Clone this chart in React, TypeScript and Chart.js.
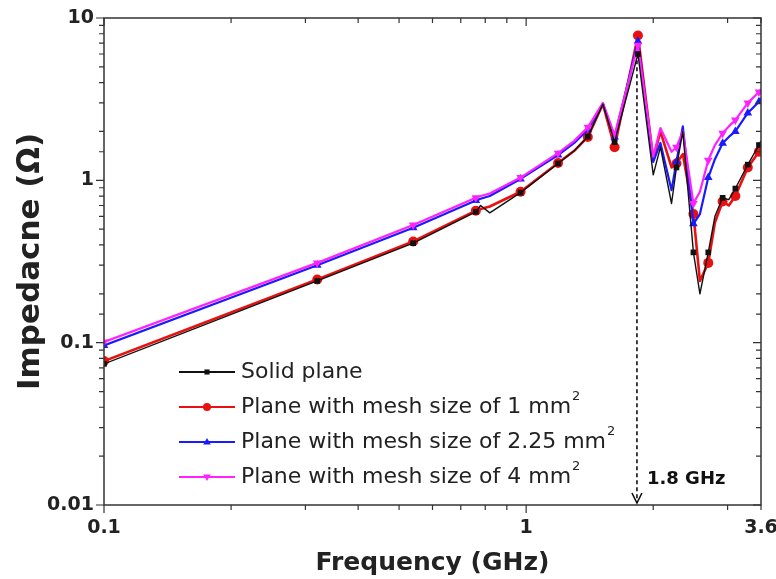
import React, { useEffect, useRef } from "react";
import { Chart, registerables } from "chart.js";

Chart.register(...registerables);

// ---------- data ----------
const FREQ = [0.1, 0.32, 0.54, 0.76, 0.78, 0.82, 0.97, 1.19, 1.3, 1.4, 1.52, 1.62, 1.84, 2.0, 2.08, 2.21, 2.27, 2.35, 2.49, 2.58, 2.7, 2.8, 2.92, 3.02, 3.13, 3.35, 3.56, 3.6];

const SOLID = [0.074, 0.24, 0.41, 0.64, 0.7, 0.63, 0.84, 1.27, 1.52, 1.86, 2.95, 1.72, 6.0, 1.08, 1.6, 0.72, 1.2, 2.0, 0.36, 0.2, 0.36, 0.6, 0.78, 0.76, 0.89, 1.25, 1.65, 1.75];
const MESH_1 = [0.077, 0.245, 0.42, 0.65, 0.665, 0.69, 0.85, 1.28, 1.52, 1.85, 2.95, 1.6, 7.8, 1.35, 2.0, 1.2, 1.27, 1.45, 0.62, 0.24, 0.31, 0.55, 0.74, 0.7, 0.8, 1.2, 1.5, 1.55];
const MESH_225 = [0.096, 0.3, 0.51, 0.75, 0.77, 0.8, 1.02, 1.43, 1.7, 2.05, 2.95, 1.85, 7.2, 1.3, 1.7, 0.87, 1.3, 2.15, 0.54, 0.62, 1.04, 1.35, 1.69, 1.85, 2.0, 2.6, 3.05, 3.2];
const MESH_4 = [0.101, 0.31, 0.53, 0.78, 0.8, 0.83, 1.04, 1.47, 1.75, 2.12, 3.0, 1.9, 6.8, 1.4, 2.1, 1.5, 1.6, 2.0, 0.72, 0.85, 1.33, 1.65, 1.95, 2.15, 2.35, 3.0, 3.5, 3.65];

const MARKER_FREQ = [0.1, 0.32, 0.54, 0.76, 0.97, 1.19, 1.4, 1.62, 1.84, 2.27, 2.49, 2.7, 2.92, 3.13, 3.35, 3.56];

const SERIES_LABELS = [
  "Solid plane",
  "Plane with mesh size of 1 mm",
  "Plane with mesh size of 2.25 mm",
  "Plane with mesh size of 4 mm",
];
const SERIES_SUP = ["", "2", "2", "2"];

const X_TICKS = [0.1, 0.2, 0.3, 0.4, 0.5, 0.6, 0.7, 0.8, 0.9, 1, 2, 3, 3.6];
const X_LABELS = [0.1, 1, 3.6];
const Y_LABELS = [0.01, 0.1, 1, 10];

const ANNOT_FREQ = 1.83;
const ANNOT_TOP = 5.5;
const ANNOT_LABEL = "1.8 GHz";

// ---------- styles ----------
const FONT = "'DejaVu Sans', sans-serif";
const COLORS = ["#111111", "#e81010", "#1a1aff", "#ff22ff"];
const WIDTHS = [1.4, 2.6, 2.2, 2.2];
const STYLES = ["rect", "circle", "triangle", "triangle"];
const ROTS = [0, 0, 0, 180];
const RADII = [4, 5, 5, 5];
const ORDERS = [0, 3, 2, 1];

const inList = (v: number, list: number[]) =>
  list.some((l) => Math.abs(l - v) / l < 1e-6);

function drawMarker(ctx: CanvasRenderingContext2D, style: string, rot: number, x: number, y: number, r: number) {
  ctx.beginPath();
  if (style === "rect") {
    ctx.rect(x - r * 0.85, y - r * 0.85, r * 1.7, r * 1.7);
  } else if (style === "circle") {
    ctx.arc(x, y, r, 0, Math.PI * 2);
  } else {
    const s = rot === 180 ? -1 : 1;
    ctx.moveTo(x, y - s * r);
    ctx.lineTo(x + r * 0.95, y + s * r * 0.65);
    ctx.lineTo(x - r * 0.95, y + s * r * 0.65);
    ctx.closePath();
  }
  ctx.fill();
}

const framePlugin = {
  id: "frameTicks",
  afterDatasetsDraw(chart: any) {
    const { ctx, chartArea: a, scales } = chart;
    const xs = scales.x;
    const ys = scales.y;
    ctx.save();
    ctx.strokeStyle = "#333";
    ctx.lineWidth = 1.5;
    ctx.strokeRect(a.left, a.top, a.right - a.left, a.bottom - a.top);
    ctx.lineWidth = 1.2;
    ctx.beginPath();
    for (const v of X_TICKS) {
      const px = xs.getPixelForValue(v);
      const len = inList(v, [0.1, 1]) ? 8 : 5;
      ctx.moveTo(px, a.bottom);
      ctx.lineTo(px, a.bottom + len);
      ctx.moveTo(px, a.top);
      ctx.lineTo(px, a.top + len);
    }
    for (const t of ys.ticks) {
      const v = t.value;
      const py = ys.getPixelForValue(v);
      const len = inList(v, Y_LABELS) ? 8 : 5;
      ctx.moveTo(a.left, py);
      ctx.lineTo(a.left - len, py);
      ctx.moveTo(a.right, py);
      ctx.lineTo(a.right - len, py);
    }
    ctx.stroke();
    ctx.restore();
  },
  afterDraw(chart: any) {
    const { ctx, chartArea: a, scales } = chart;
    const xs = scales.x;
    const ys = scales.y;
    ctx.save();
    // legend
    const lx0 = a.left + 75;
    const lx1 = a.left + 131;
    const tx = a.left + 137;
    for (let i = 0; i < SERIES_LABELS.length; i++) {
      const y = a.top + 354 + i * 35;
      ctx.strokeStyle = COLORS[i];
      ctx.fillStyle = COLORS[i];
      ctx.lineWidth = 2;
      ctx.beginPath();
      ctx.moveTo(lx0, y);
      ctx.lineTo(lx1, y);
      ctx.stroke();
      drawMarker(ctx, STYLES[i], ROTS[i], (lx0 + lx1) / 2, y, RADII[i] - 1);
      ctx.fillStyle = "#222";
      ctx.font = `22px ${FONT}`;
      ctx.textBaseline = "middle";
      ctx.textAlign = "left";
      ctx.fillText(SERIES_LABELS[i], tx, y);
      if (SERIES_SUP[i]) {
        const w = ctx.measureText(SERIES_LABELS[i]).width;
        ctx.font = `13px ${FONT}`;
        ctx.fillText(SERIES_SUP[i], tx + w + 1, y - 10);
      }
    }
    // annotation arrow
    const x = xs.getPixelForValue(ANNOT_FREQ);
    const yTop = ys.getPixelForValue(ANNOT_TOP);
    const yBot = a.bottom - 2;
    ctx.strokeStyle = "#111";
    ctx.lineWidth = 1.6;
    ctx.setLineDash([4, 3]);
    ctx.beginPath();
    ctx.moveTo(x, yTop);
    ctx.lineTo(x, yBot);
    ctx.stroke();
    ctx.setLineDash([]);
    ctx.beginPath();
    ctx.moveTo(x - 5, yBot - 10);
    ctx.lineTo(x, yBot);
    ctx.lineTo(x + 5, yBot - 10);
    ctx.stroke();
    ctx.fillStyle = "#111";
    ctx.font = `bold 18px ${FONT}`;
    ctx.textBaseline = "middle";
    ctx.fillText(ANNOT_LABEL, x + 10, a.bottom - 26);
    ctx.restore();
  },
};

export default function App() {
  const ref = useRef<HTMLCanvasElement | null>(null);

  useEffect(() => {
    if (!ref.current) return;
    const seriesValues = [SOLID, MESH_1, MESH_225, MESH_4];
    const datasets = seriesValues.map((vals, i) => ({
      label: SERIES_LABELS[i] + (SERIES_SUP[i] ? "²" : ""),
      data: FREQ.map((f, k) => ({ x: f, y: vals[k] })),
      borderColor: COLORS[i],
      backgroundColor: COLORS[i],
      borderWidth: WIDTHS[i],
      pointStyle: STYLES[i] as any,
      rotation: ROTS[i],
      pointRadius: (c: any) => (c.raw && inList(c.raw.x, MARKER_FREQ) ? RADII[i] : 0),
      pointBorderWidth: 0,
      tension: 0,
      borderJoinStyle: "round" as const,
      order: ORDERS[i],
    }));

    const chart = new Chart(ref.current, {
      type: "line",
      data: { datasets },
      plugins: [framePlugin],
      options: {
        animation: false,
        responsive: false,
        events: [],
        layout: { padding: { top: 18, right: 15, left: 0, bottom: 0 } },
        plugins: { legend: { display: false }, tooltip: { enabled: false } },
        scales: {
          x: {
            type: "logarithmic",
            min: 0.1,
            max: 3.6,
            border: { display: false },
            grid: { display: false },
            afterBuildTicks: (s: any) => {
              s.ticks = X_TICKS.map((v) => ({ value: v }));
            },
            afterFit: (s: any) => {
              s.height = 74;
              s.paddingRight = 0;
              s.paddingLeft = 0;
            },
            ticks: {
              autoSkip: false,
              maxRotation: 0,
              padding: 4,
              color: "#222",
              font: { family: FONT, size: 19, weight: "bold" },
              callback: (v: any) => (inList(Number(v), X_LABELS) ? String(Number(v)) : ""),
            },
            title: {
              display: true,
              text: "Frequency (GHz)",
              color: "#222",
              padding: { top: 0, bottom: 1 },
              font: { family: FONT, size: 25, weight: "bold" },
            },
          },
          y: {
            type: "logarithmic",
            min: 0.01,
            max: 10,
            border: { display: false },
            grid: { display: false },
            afterFit: (s: any) => {
              s.width = 104;
            },
            ticks: {
              autoSkip: false,
              padding: 2,
              color: "#222",
              font: { family: FONT, size: 19, weight: "bold" },
              callback: (v: any) => (inList(Number(v), Y_LABELS) ? String(Number(v)) : ""),
            },
            title: {
              display: true,
              text: "Impedacne (Ω)",
              color: "#222",
              padding: { top: 12, bottom: 0 },
              font: { family: FONT, size: 31, weight: "bold" },
            },
          },
        },
      },
    } as any);
    return () => chart.destroy();
  }, []);

  return (
    <div style={{ position: "fixed", left: 0, top: 0, width: 776, height: 579, background: "#fff" }}>
      <canvas ref={ref} width={776} height={579} style={{ display: "block" }} />
    </div>
  );
}
